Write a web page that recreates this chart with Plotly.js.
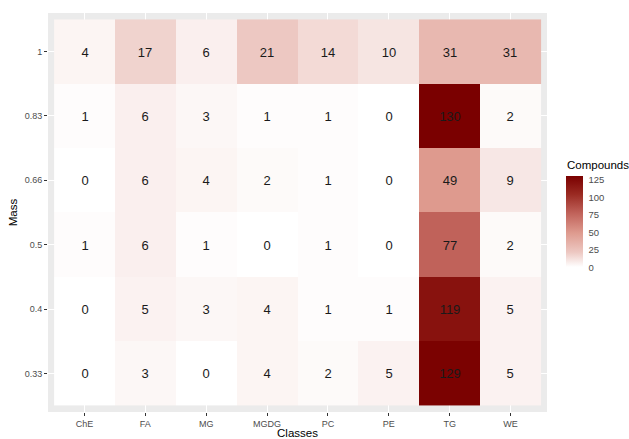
<!DOCTYPE html>
<html>
<head>
<meta charset="utf-8">
<script src="https://cdn.plot.ly/plotly-3.0.1.min.js"></script>
<style>
  html, body { margin: 0; padding: 0; background: #fff; }
  #chart { width: 629px; height: 439px; }
</style>
</head>
<body>
<div id="chart"></div>
<script>
// Lipid classes along the x axis
var classes = ['ChE', 'FA', 'MG', 'MGDG', 'PC', 'PE', 'TG', 'WE'];

// Mass levels along the y axis, bottom to top
var massLevels = ['0.33', '0.4', '0.5', '0.66', '0.83', '1'];

// Compound counts per class, one array per mass level
var mass033 = [0, 3, 0, 4, 2, 5, 129, 5];
var mass04  = [0, 5, 3, 4, 1, 1, 119, 5];
var mass05  = [1, 6, 1, 0, 1, 0, 77, 2];
var mass066 = [0, 6, 4, 2, 1, 0, 49, 9];
var mass083 = [1, 6, 3, 1, 1, 0, 130, 2];
var mass1   = [4, 17, 6, 21, 14, 10, 31, 31];

// Colour bar ticks
var legendTicks = [0, 25, 50, 75, 100, 125];

var counts = [mass033, mass04, mass05, mass066, mass083, mass1];

// White -> dark red fill gradient
var fillScale = [
  [0.000, '#FFFFFF'],
  [0.162, '#EDC8C2'],
  [0.377, '#DE9A8E'],
  [0.592, '#C0625A'],
  [0.800, '#9A2A22'],
  [1.000, '#7A0000']
];

var FAMILY = 'Liberation Sans, Arial, sans-serif';
var tickFont = { family: FAMILY, size: 9, color: '#4D4D4D' };
var titleFont = { family: FAMILY, size: 11.5, color: '#000000' };

var trace = {
  type: 'heatmap',
  x: classes,
  y: massLevels,
  z: counts,
  zmin: 0,
  colorscale: fillScale,
  texttemplate: '%{z}',
  textfont: { family: FAMILY, size: 13, color: '#1A1A1A' },
  hoverinfo: 'skip',
  colorbar: {
    thickness: 17,
    lenmode: 'pixels',
    len: 90.5,
    x: 1.038,
    xanchor: 'left',
    xpad: 0,
    y: 0.4768,
    yanchor: 'middle',
    ypad: 0,
    outlinewidth: 0,
    tickvals: legendTicks,
    ticks: 'outside',
    ticklen: 4,
    tickcolor: '#FFFFFF',
    tickfont: { family: FAMILY, size: 9.5, color: '#4D4D4D' }
  }
};

var layout = {
  width: 629,
  height: 439,
  margin: { l: 47.5, r: 82, t: 13, b: 27 },
  paper_bgcolor: '#FFFFFF',
  plot_bgcolor: '#EBEBEB',
  font: { family: FAMILY },
  xaxis: {
    type: 'category',
    categoryorder: 'array',
    categoryarray: classes,
    range: [-0.6, classes.length - 0.4],
    showgrid: true,
    gridcolor: '#FFFFFF',
    gridwidth: 1,
    zeroline: false,
    showline: false,
    ticks: 'outside',
    ticklen: 3,
    tickcolor: '#333333',
    tickfont: tickFont,
    automargin: false,
    title: { text: 'Classes', font: titleFont, standoff: 1 }
  },
  yaxis: {
    type: 'category',
    categoryorder: 'array',
    categoryarray: massLevels,
    range: [-0.6, massLevels.length - 0.4],
    showgrid: true,
    gridcolor: '#FFFFFF',
    gridwidth: 1,
    zeroline: false,
    showline: false,
    ticks: 'outside',
    ticklen: 3,
    tickcolor: '#333333',
    tickfont: tickFont,
    automargin: false,
    title: { text: 'Mass', font: titleFont, standoff: 4 }
  },
  // Colour bar heading, placed above the bar
  annotations: [{
    text: 'Compounds',
    xref: 'paper', yref: 'paper',
    x: 1.038, xanchor: 'left',
    y: 0.6178, yanchor: 'middle',
    showarrow: false,
    xshift: -1,
    font: { family: FAMILY, size: 11.5, color: '#000000' }
  }]
};

Plotly.newPlot('chart', [trace], layout, { displayModeBar: false, staticPlot: true });
</script>
</body>
</html>
